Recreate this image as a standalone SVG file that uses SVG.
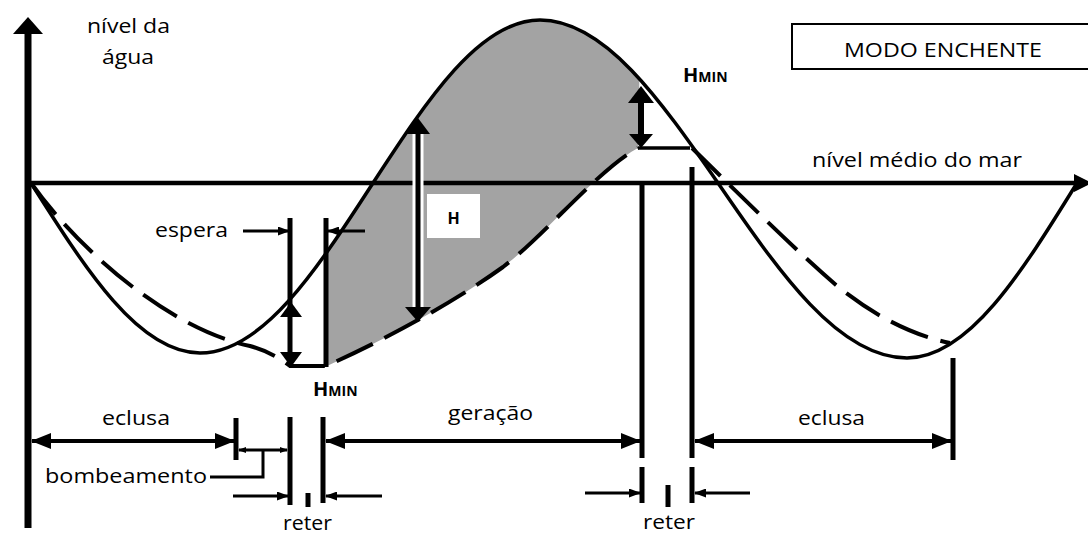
<svg xmlns="http://www.w3.org/2000/svg" width="1088" height="536" viewBox="0 0 1088 536">
<style>
.t{font-family:"Open Sans","Liberation Sans",sans-serif;font-size:20px;fill:#000}
.b{font-family:"Open Sans","Liberation Sans",sans-serif;font-weight:bold;fill:#000}
.ln{stroke:#000;fill:none}
.curve{stroke:#000;fill:none;stroke-width:3.5}
.dash{stroke:#000;fill:none;stroke-width:4;stroke-dasharray:40 13}
.bar{stroke:#000;stroke-width:5}
.ar{stroke:#000;stroke-width:4;fill:none}
.sar{stroke:#000;stroke-width:3;fill:none}
</style>
<defs>
<marker id="ab" viewBox="0 0 20 16" refX="19" refY="8" markerWidth="20" markerHeight="16" orient="auto-start-reverse" markerUnits="userSpaceOnUse"><path d="M0,0 L20,8 L0,16 Z"/></marker>
<marker id="as" viewBox="0 0 12 9" refX="11" refY="4.5" markerWidth="12" markerHeight="9" orient="auto-start-reverse" markerUnits="userSpaceOnUse"><path d="M0,0 L12,4.5 L0,9 Z"/></marker>
<marker id="at" viewBox="0 0 8 6" refX="7" refY="3" markerWidth="8" markerHeight="6" orient="auto-start-reverse" markerUnits="userSpaceOnUse"><path d="M0,0 L8,3 L0,6 Z"/></marker>
<clipPath id="clipAbove"><path d="M327,420 L327,366 C380,342 450,305 503,267 C545,235 600,168 638,148 L641,0 L327,0 Z"/></clipPath>
</defs>
<rect width="1088" height="536" fill="#fff"/>

<g id="fill-area">
<path d="M200,353 C262.6,353 316.6,270.1 373,183 C427.5,99.5 479.6,20 540,20 C604.4,20 660,99.5 718,183 L718,420 L200,420 Z" fill="#a3a3a3" clip-path="url(#clipAbove)"/>
</g>

<g id="axes">
<line class="ln" x1="28" y1="528" x2="28" y2="30" stroke-width="7"/>
<polygon points="28,17 13,34 43,34"/>
<line class="ln" x1="28" y1="183" x2="1078" y2="183" stroke-width="4.5"/>
<polygon points="1092,183 1074,174 1074,192"/>
</g>

<g id="sea-level-curve">
<path class="curve" d="M31,183 C86.1,270.1 138.8,353 200,353 C262.6,353 316.6,270.1 373,183 C427.5,99.5 479.6,20 540,20 C604.4,20 660,99.5 718,183 C779.6,272.7 838.6,358 907,358 C968.5,358 1021.6,272.7 1077,183"/>
</g>

<g id="basin-level-curve">
<path class="dash" d="M31,183 C75,245 165,328 250,346 Q272,352 290,366 L326,366 C380,342 450,305 503,267 C545,235 600,168 638,148"/>
<line class="ln" x1="638" y1="148" x2="690" y2="148" stroke-width="3.5"/>
<path class="dash" d="M692,148 C740,195 790,245 836,285 C870,313 910,335 950,343"/>
</g>

<g id="connectors">
<line class="bar" x1="290" y1="218" x2="290" y2="366"/>
<line class="bar" x1="326" y1="218" x2="326" y2="367"/>
<line class="bar" x1="290" y1="417" x2="290" y2="505"/>
<line class="bar" x1="323" y1="417" x2="323" y2="503"/>
<line class="bar" x1="236" y1="418" x2="236" y2="460"/>
<line class="bar" x1="642" y1="183" x2="642" y2="458"/>
<line class="bar" x1="642" y1="467" x2="642" y2="503"/>
<line class="bar" x1="692" y1="167" x2="692" y2="458"/>
<line class="bar" x1="692" y1="467" x2="692" y2="503"/>
<line class="bar" x1="953" y1="358" x2="953" y2="460"/>
<line class="bar" x1="308" y1="493" x2="308" y2="507"/>
<line class="bar" x1="668" y1="485" x2="668" y2="507"/>

<line x1="418" y1="130" x2="418" y2="310" stroke="#fff" stroke-width="11"/>
<line class="bar" x1="418" y1="130" x2="418" y2="310"/>
<polygon points="418,118 406,134 430,134"/>
<polygon points="418,322 405,307 431,307"/>

<polygon points="291,302 280,317 302,317"/>
<polygon points="291,367 280,352 302,352"/>

<line class="ln" x1="641" y1="100" x2="641" y2="136" stroke-width="6"/>
<polygon points="641,86 628,103 654,103"/>
<polygon points="641,148 629,134 653,134"/>

<line class="sar" x1="243" y1="231" x2="289" y2="231" marker-end="url(#as)"/>
<line class="sar" x1="365" y1="231" x2="328" y2="231" marker-end="url(#as)"/>

<line class="ar" x1="32" y1="441" x2="234" y2="441" marker-start="url(#ab)" marker-end="url(#ab)"/>
<line class="ar" x1="326" y1="441" x2="640" y2="441" marker-start="url(#ab)" marker-end="url(#ab)"/>
<line class="ar" x1="695" y1="441" x2="951" y2="441" marker-start="url(#ab)" marker-end="url(#ab)"/>

<line class="sar" x1="239" y1="450" x2="287" y2="450" marker-start="url(#at)" marker-end="url(#at)"/>
<polyline class="sar" points="263,450 263,477 210,477"/>

<line class="sar" x1="233" y1="496" x2="288" y2="496" marker-end="url(#as)"/>
<line class="sar" x1="382" y1="496" x2="326" y2="496" marker-end="url(#as)"/>
<line class="sar" x1="585" y1="493" x2="640" y2="493" marker-end="url(#as)"/>
<line class="sar" x1="750" y1="493" x2="695" y2="493" marker-end="url(#as)"/>
</g>

<g id="label-y-axis"><text class="t" x="87" y="33" textLength="83" lengthAdjust="spacingAndGlyphs">nível da</text><text class="t" x="102" y="64" textLength="52" lengthAdjust="spacingAndGlyphs">água</text></g>
<g id="mode-box"><rect x="792" y="24" width="300" height="45" fill="#fff" stroke="#000" stroke-width="2"/><text class="t" x="844" y="57" textLength="198" lengthAdjust="spacingAndGlyphs">MODO ENCHENTE</text></g>
<g id="label-mean-sea"><text class="t" x="812" y="167" textLength="210" lengthAdjust="spacingAndGlyphs">nível médio do mar</text></g>
<g id="label-espera"><text class="t" x="155" y="237" textLength="73" lengthAdjust="spacingAndGlyphs">espera</text></g>
<g id="label-H"><rect x="427" y="194" width="53" height="44" fill="#fff"/><text class="b" x="453.5" y="224" font-size="16" text-anchor="middle">H</text></g>
<g id="label-hmin-top"><text class="b" x="683" y="82"><tspan font-size="20">H</tspan><tspan font-size="14">MIN</tspan></text></g>
<g id="label-hmin-bottom"><text class="b" x="313" y="396"><tspan font-size="20">H</tspan><tspan font-size="14">MIN</tspan></text></g>
<g id="label-eclusa-left"><text class="t" x="102" y="425" textLength="68" lengthAdjust="spacingAndGlyphs">eclusa</text></g>
<g id="label-bombeamento"><text class="t" x="45" y="483" textLength="162" lengthAdjust="spacingAndGlyphs">bombeamento</text></g>
<g id="label-geracao"><text class="t" x="448" y="420" textLength="85" lengthAdjust="spacingAndGlyphs">geração</text></g>
<g id="label-eclusa-right"><text class="t" x="798" y="425" textLength="67" lengthAdjust="spacingAndGlyphs">eclusa</text></g>
<g id="label-reter-left"><text class="t" x="283" y="530" textLength="49" lengthAdjust="spacingAndGlyphs">reter</text></g>
<g id="label-reter-right"><text class="t" x="643" y="529" textLength="52" lengthAdjust="spacingAndGlyphs">reter</text></g>
</svg>
